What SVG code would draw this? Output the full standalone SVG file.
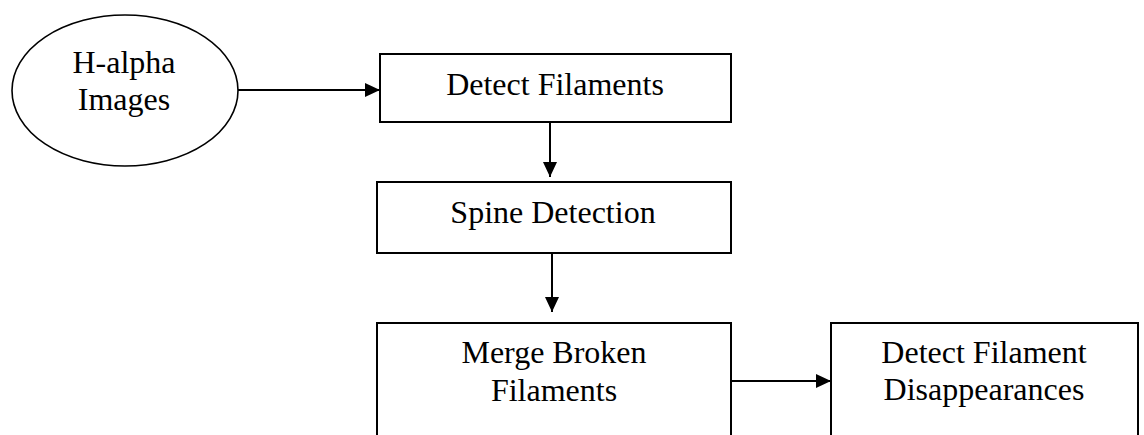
<svg xmlns="http://www.w3.org/2000/svg" width="1144" height="435" viewBox="0 0 1144 435">
<style>
.box{fill:#fff;stroke:#000;stroke-width:2}
.ell{fill:#fff;stroke:#000;stroke-width:1.6}
.lbl{font-family:"Liberation Serif","Times New Roman",serif;font-size:32px;fill:#000;text-anchor:middle}
.conn{stroke:#000;stroke-width:2;fill:none}
</style>
<defs>
<marker id="ah" viewBox="0 0 15 14" refX="15" refY="7" markerWidth="15" markerHeight="14" markerUnits="userSpaceOnUse" orient="auto">
<path d="M0,0 L15,7 L0,14 Z" fill="#000"/>
</marker>
</defs>
<rect width="1144" height="435" fill="#fff"/>
<g id="connectors">
<line class="conn" x1="238" y1="90" x2="380" y2="90" marker-end="url(#ah)"/>
<line class="conn" x1="550" y1="122" x2="550" y2="177" marker-end="url(#ah)"/>
<line class="conn" x1="552" y1="253" x2="552" y2="312" marker-end="url(#ah)"/>
<line class="conn" x1="731" y1="381" x2="831" y2="381" marker-end="url(#ah)"/>
</g>
<g id="n-halpha">
<ellipse class="ell" cx="125" cy="90.5" rx="113" ry="75.5"/>
<text class="lbl" x="124" y="73">H-alpha</text>
<text class="lbl" x="124" y="110">Images</text>
</g>
<g id="n-detect">
<rect class="box" x="380" y="54" width="351" height="68"/>
<text class="lbl" x="555" y="95">Detect Filaments</text>
</g>
<g id="n-spine">
<rect class="box" x="377" y="182" width="354" height="71"/>
<text class="lbl" x="553" y="223">Spine Detection</text>
</g>
<g id="n-merge">
<rect class="box" x="377" y="323" width="354" height="130"/>
<text class="lbl" x="554" y="363">Merge Broken</text>
<text class="lbl" x="554" y="401">Filaments</text>
</g>
<g id="n-disappear">
<rect class="box" x="831" y="323" width="307" height="130"/>
<text class="lbl" x="984" y="363">Detect Filament</text>
<text class="lbl" x="984" y="400">Disappearances</text>
</g>
</svg>
